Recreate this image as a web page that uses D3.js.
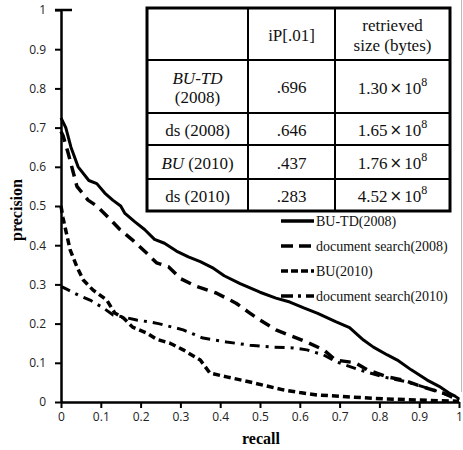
<!DOCTYPE html>
<html><head><meta charset="utf-8">
<script src="https://cdn.jsdelivr.net/npm/d3@7/dist/d3.min.js"></script>
<style>body{margin:0;background:#fff}svg{display:block}
.serif{font-family:"Liberation Serif","Times New Roman","DejaVu Serif",serif}
</style>
</head><body>
<svg id="c" width="463" height="450"></svg>
<script>
// ---- data ----
const xTicks = [0,0.1,0.2,0.3,0.4,0.5,0.6,0.7,0.8,0.9,1];
const yTicks = [0,0.1,0.2,0.3,0.4,0.5,0.6,0.7,0.8,0.9,1];
const tickLabels = ["0","0.1","0.2","0.3","0.4","0.5","0.6","0.7","0.8","0.9","1"];

const buTD2008R = [0,0.012,0.025,0.043,0.07,0.09,0.11,0.13,0.15,0.16,0.185,0.21,0.235,0.26,0.29,0.32,0.35,0.38,0.41,0.45,0.5,0.54,0.575,0.61,0.645,0.69,0.725,0.76,0.785,0.82,0.845,0.88,0.92,0.95,0.975,0.99,1];
const buTD2008P = [0.725,0.70,0.65,0.60,0.565,0.557,0.533,0.515,0.50,0.482,0.46,0.44,0.415,0.405,0.385,0.37,0.358,0.343,0.322,0.302,0.28,0.265,0.255,0.24,0.226,0.205,0.19,0.158,0.14,0.12,0.107,0.082,0.056,0.04,0.023,0.015,0.008];

const ds2008R = [0,0.005,0.018,0.04,0.068,0.09,0.12,0.148,0.18,0.215,0.24,0.27,0.3,0.34,0.39,0.44,0.47,0.5,0.54,0.575,0.617,0.66,0.69,0.74,0.77,0.82,0.86,0.91,0.96,1];
const ds2008P = [0.69,0.68,0.635,0.55,0.515,0.5,0.47,0.44,0.413,0.38,0.355,0.345,0.315,0.295,0.278,0.252,0.23,0.209,0.184,0.17,0.153,0.133,0.107,0.1,0.082,0.064,0.056,0.038,0.023,0.005];

const bu2010R = [0,0.005,0.01,0.023,0.04,0.056,0.08,0.115,0.135,0.157,0.18,0.215,0.24,0.274,0.307,0.35,0.374,0.416,0.475,0.52,0.558,0.6,0.643,0.726,0.81,0.894,1];
const bu2010P = [0.5,0.47,0.447,0.388,0.345,0.311,0.286,0.26,0.227,0.214,0.191,0.176,0.16,0.15,0.133,0.107,0.074,0.064,0.051,0.04,0.031,0.024,0.018,0.013,0.008,0.005,0.002];

const ds2010R = [0,0.018,0.043,0.073,0.106,0.131,0.156,0.19,0.224,0.245,0.307,0.357,0.416,0.475,0.533,0.583,0.618,0.66,0.693,0.75,0.81,0.87,0.935,0.985,1];
const ds2010P = [0.295,0.286,0.273,0.26,0.24,0.222,0.217,0.209,0.204,0.2,0.184,0.163,0.153,0.145,0.14,0.138,0.133,0.12,0.102,0.082,0.064,0.051,0.031,0.013,0.005];

const legendLabels = ["BU-TD(2008)","document search(2008)","BU(2010)","document search(2010)"];

const tableHeader = ["", "iP[.01]", "retrieved|size (bytes)"];
const tableNames = ["BU-TD|(2008)", "ds (2008)", "BU (2010)", "ds (2010)"];
const tableIP = [".696", ".646", ".437", ".283"];
const tableSize = ["1.30", "1.65", "1.76", "4.52"];
const tableExp = ["8","8","8","8"];

// ---- chart ----
const svg = d3.select("#c");
const x = d3.scaleLinear().domain([0,1]).range([61,459]);
const y = d3.scaleLinear().domain([0,1]).range([402,10]);

svg.append("line").attr("x1",461.5).attr("x2",461.5).attr("y1",0).attr("y2",392)
  .attr("stroke","#bbb").attr("stroke-width",1);

const series = [
  {r:buTD2008R, p:buTD2008P, dash:null, w:3},
  {r:ds2008R, p:ds2008P, dash:"11,7", w:3.5},
  {r:bu2010R, p:bu2010P, dash:"7,4", w:3.5},
  {r:ds2010R, p:ds2010P, dash:"10,6,3,6", w:3}
];
const line = d3.line().x(d=>x(d[0])).y(d=>y(d[1]));
series.forEach(s=>{
  svg.append("path").datum(d3.zip(s.r,s.p)).attr("d",line)
    .attr("fill","none").attr("stroke","#000").attr("stroke-width",s.w)
    .attr("stroke-dasharray",s.dash).attr("stroke-linejoin","round");
});

const fmt = d => tickLabels[Math.round(d*10)];
const gy = svg.append("g").attr("transform","translate(61,0)")
  .call(d3.axisLeft(y).tickValues(yTicks).tickFormat(fmt).tickSize(6).tickSizeOuter(0).tickPadding(9));
const gx = svg.append("g").attr("transform","translate(0,402)")
  .call(d3.axisBottom(x).tickValues(xTicks).tickFormat(fmt).tickSize(6).tickSizeOuter(0).tickPadding(4));
[gx,gy].forEach(g=>{
  g.select(".domain").attr("stroke","#000").attr("stroke-width",2.5);
  g.selectAll(".tick line").attr("stroke","#000").attr("stroke-width",2);
  g.selectAll(".tick text").attr("font-family","'Open Sans', 'Noto Sans', sans-serif")
    .attr("font-size",12).attr("fill","#222");
});
svg.append("line").attr("x1",55).attr("x2",72).attr("y1",10).attr("y2",10)
  .attr("stroke","#000").attr("stroke-width",2.5);

svg.append("text").attr("class","serif").attr("x",261).attr("y",444).attr("text-anchor","middle")
  .attr("font-weight","bold").attr("font-size",16).text("recall");
svg.append("text").attr("class","serif").attr("transform","translate(22,210) rotate(-90)").attr("text-anchor","middle")
  .attr("font-weight","bold").attr("font-size",16).text("precision");

// table
const colX = [147,248,335,450];
const rowY = [8,60,113,145,179,211];
const tg = svg.append("g");
tg.append("rect").attr("x",colX[0]).attr("y",rowY[0]).attr("width",colX[3]-colX[0])
  .attr("height",rowY[5]-rowY[0]).attr("fill","#fff").attr("stroke","none");
rowY.slice(1,5).forEach(yy=>tg.append("line").attr("x1",colX[0]).attr("x2",colX[3])
  .attr("y1",yy).attr("y2",yy).attr("stroke","#000").attr("stroke-width",2));
colX.slice(1,3).forEach(xx=>tg.append("line").attr("x1",xx).attr("x2",xx)
  .attr("y1",rowY[0]).attr("y2",rowY[5]).attr("stroke","#000").attr("stroke-width",2));
tg.append("rect").attr("x",colX[0]).attr("y",rowY[0]).attr("width",colX[3]-colX[0])
  .attr("height",rowY[5]-rowY[0]).attr("fill","none").attr("stroke","#000").attr("stroke-width",3);

function cellText(txt, cx, cy, italicFirst){
  const parts = txt.split("|");
  const lh = 20;
  parts.forEach((p,i)=>{
    const t = tg.append("text").attr("class","serif").attr("x",cx).attr("y",cy + (i-(parts.length-1)/2)*lh)
      .attr("text-anchor","middle").attr("dominant-baseline","central")
      .attr("font-size",17).attr("fill","#111");
    if(italicFirst && i===0){
      const m = p.match(/^(BU(?:-TD)?)(.*)$/);
      if(m){ t.append("tspan").attr("font-style","italic").text(m[1]); t.append("tspan").text(m[2]); }
      else t.text(p);
    } else t.text(p);
  });
}
cellText(tableHeader[1], (colX[1]+colX[2])/2, (rowY[0]+rowY[1])/2+1);
cellText(tableHeader[2], (colX[2]+colX[3])/2, (rowY[0]+rowY[1])/2+1);
tableNames.forEach((n,i)=>{
  const cy = (rowY[i+1]+rowY[i+2])/2+1;
  cellText(n, (colX[0]+colX[1])/2, cy, true);
  cellText(tableIP[i], (colX[1]+colX[2])/2, cy);
  const t = tg.append("text").attr("class","serif").attr("x",(colX[2]+colX[3])/2).attr("y",cy)
    .attr("text-anchor","middle").attr("dominant-baseline","central")
    .attr("font-size",17).attr("fill","#111");
  t.append("tspan").text(tableSize[i]);
  t.append("tspan").attr("style","font-family:'DejaVu Sans',sans-serif").attr("font-size",15).attr("dx",2).text("\u00d7");
  t.append("tspan").attr("dx",2).text("10");
  t.append("tspan").attr("font-size",12).attr("dy",-6).text(tableExp[i]);
});

// legend
const lg = svg.append("g");
const legY = [221,246,271,296];
const legDash = [null,"12,6","7,3","12,5,3,5"];
legendLabels.forEach((lab,i)=>{
  lg.append("line").attr("x1",281).attr("x2",314).attr("y1",legY[i]).attr("y2",legY[i])
    .attr("stroke","#000").attr("stroke-width",3.5).attr("stroke-dasharray",legDash[i]);
  lg.append("text").attr("class","serif").attr("x",316).attr("y",legY[i]).attr("dominant-baseline","central")
    .attr("font-size",14).attr("fill","#111").text(lab);
});
</script>
</body></html>
